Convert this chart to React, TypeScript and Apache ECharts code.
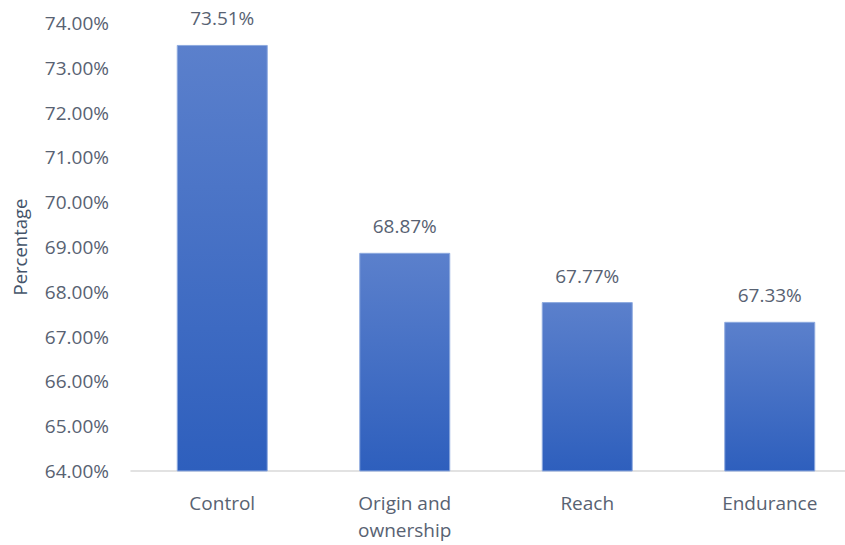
import React, { useEffect, useRef } from "react";
import * as echarts from "echarts";

const categories = ["Control", "Origin and\nownership", "Reach", "Endurance"];
const values = [73.51, 68.87, 67.77, 67.33];
const yMin = 64;
const yMax = 74;
const yInterval = 1;

export default function App() {
  const ref = useRef<HTMLDivElement>(null);
  useEffect(() => {
    const chart = echarts.init(ref.current!, undefined, { renderer: "svg" });
    const font = "'Open Sans', 'Liberation Sans', sans-serif";
    const textColor = "#586272";
    chart.setOption({
      animation: false,
      backgroundColor: "#ffffff",
      grid: { left: 131, top: 23, width: 730, bottom: 74, containLabel: false },
      xAxis: {
        type: "category",
        data: categories,
        axisLine: { show: true, lineStyle: { color: "#d9d9d9", width: 1.5 } },
        axisTick: { show: false },
        axisLabel: { color: textColor, fontSize: 19, fontFamily: font, margin: 18, lineHeight: 27 },
      },
      yAxis: {
        type: "value",
        min: yMin,
        max: yMax,
        interval: yInterval,
        name: "Percentage",
        nameLocation: "middle",
        nameGap: 102,
        nameTextStyle: { color: "#44546a", fontSize: 18.5, fontFamily: font },
        axisLine: { show: false },
        axisTick: { show: false },
        splitLine: { show: false },
        axisLabel: {
          color: textColor,
          fontSize: 19,
          fontFamily: font,
          margin: 22,
          formatter: (v: number) => v.toFixed(2) + "%",
        },
      },
      series: [
        {
          type: "bar",
          data: values,
          barWidth: 91,
          itemStyle: {
            color: new echarts.graphic.LinearGradient(0, 0, 0, 1, [
              { offset: 0, color: "#5b80cc" },
              { offset: 1, color: "#2e5fbd" },
            ]),
            borderColor: "#8eaadf",
            borderWidth: 1,
          },
          label: {
            show: true,
            position: "top",
            distance: 17,
            color: textColor,
            fontSize: 19,
            fontFamily: font,
            formatter: (p: any) => p.value.toFixed(2) + "%",
          },
        },
      ],
    });
    return () => chart.dispose();
  }, []);
  return (
    <div
      style={{ position: "absolute", left: 0, top: 0, width: 845, height: 545, overflow: "hidden" }}
    >
      <div ref={ref} style={{ width: 880, height: 545 }} />
    </div>
  );
}
